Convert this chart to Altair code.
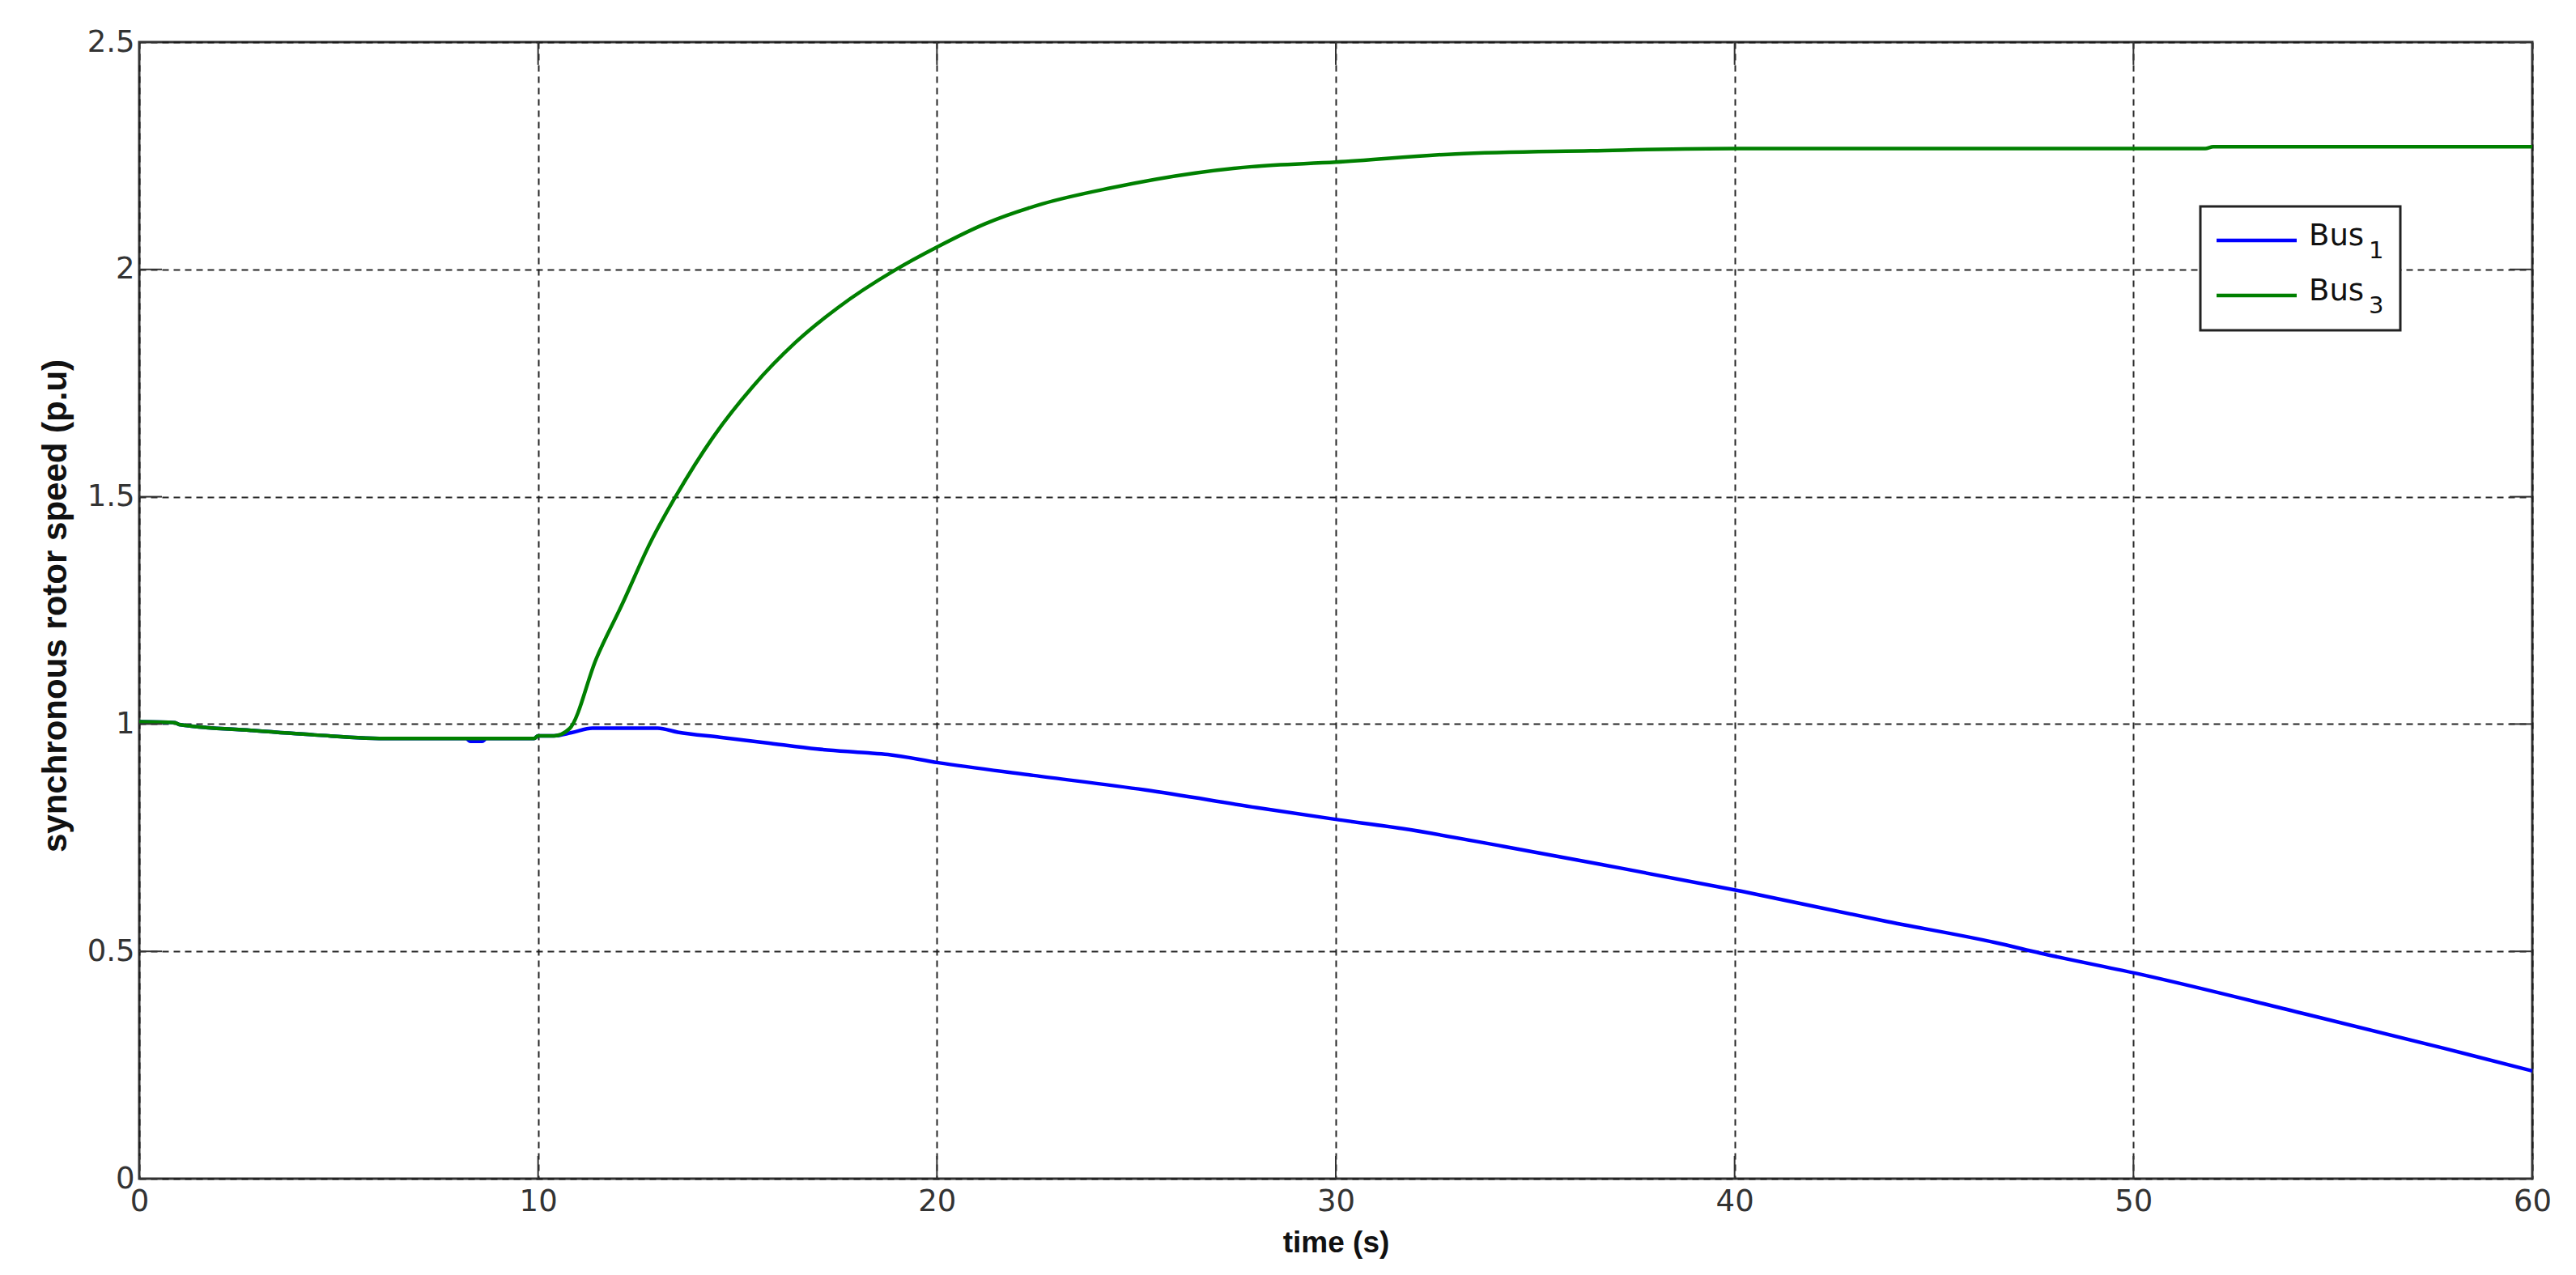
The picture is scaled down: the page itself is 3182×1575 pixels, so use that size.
import altair as alt
import pandas as pd

# ---- data ----
bus1_t = [0, 0.9, 1.0, 2.8, 4.4, 6.3, 8.2, 8.3, 8.6, 8.7, 9.9, 10.0, 10.4, 10.84, 11.36, 13.0,
          13.5, 14.56, 15.7, 17.0, 18.2, 18.77, 20.03, 22.42, 25.22, 28.03, 30.1, 31.67, 34.2, 36.72,
          40.18, 43.74, 46.55, 47.67, 50.25, 54.13, 57.78, 60]
bus1_v = [1.005, 1.003, 0.999, 0.986, 0.976, 0.968, 0.968, 0.962, 0.962, 0.968, 0.968, 0.974,
          0.974, 0.981, 0.991, 0.991, 0.982, 0.971, 0.959, 0.945, 0.937, 0.933, 0.915, 0.887, 0.855,
          0.816, 0.789, 0.770, 0.731, 0.690, 0.632, 0.567, 0.519, 0.496, 0.448, 0.366, 0.287, 0.237]

bus3_t = [0, 0.9, 1.0, 2.8, 4.4, 6.3, 9.9, 10.0, 10.4, 10.79, 11.46, 12.10, 12.82, 13.46, 14.38,
          15.38, 16.45, 17.52, 18.94, 20.0, 21.2, 22.64, 24.35, 26.48, 27.9, 30.0, 33.0, 36.4,
          40.0, 51.8, 52.0, 60]
bus3_v = [1.005, 1.003, 0.999, 0.986, 0.976, 0.968, 0.968, 0.974, 0.974, 0.99, 1.144, 1.262,
          1.400, 1.502, 1.630, 1.742, 1.839, 1.916, 1.998, 2.049, 2.100, 2.144, 2.179, 2.212,
          2.226, 2.236, 2.254, 2.261, 2.266, 2.266, 2.270, 2.270]

series_base = ["Bus", "Bus"]
series_sub = ["1", "3"]
series_colors = ["#0000FF", "#008000"]

x_ticks = [0, 10, 20, 30, 40, 50, 60]
y_ticks = [0, 0.5, 1, 1.5, 2, 2.5]

x_title = "time (s)"
y_title = "synchronous rotor speed (p.u)"

# ---- layout ----
W, H = 2956, 1404
AX = "#333333"
TICK = 28

df1 = pd.DataFrame({"t": bus1_t, "v": bus1_v})
df3 = pd.DataFrame({"t": bus3_t, "v": bus3_v})
dfx = pd.DataFrame({"t": x_ticks})
dfy = pd.DataFrame({"v": y_ticks})

xscale = alt.Scale(domain=[0, 60], nice=False, zero=False)
yscale = alt.Scale(domain=[0, 2.5], nice=False, zero=False)

x_axis = alt.Axis(values=x_ticks, title=x_title, grid=True, gridDash=[8, 6], gridColor="#1a1a1a",
                  gridWidth=2, gridOpacity=0.95, ticks=False, domain=False,
                  labelFont="DejaVu Sans", labelFontSize=37, labelColor=AX, labelPadding=10,
                  labelFlush=False, format="d",
                  titleFont="Liberation Sans", titleFontSize=37, titleFontWeight="bold",
                  titleColor="#111111", titleY=90, titleBaseline="alphabetic")
y_axis = alt.Axis(values=y_ticks, title=y_title, grid=True, gridDash=[8, 6], gridColor="#1a1a1a",
                  gridWidth=2, gridOpacity=0.95, ticks=False, domain=False,
                  labelFont="DejaVu Sans", labelFontSize=37, labelColor=AX, labelPadding=6,
                  labelFlush=False, format="~g",
                  titleFont="Liberation Sans", titleFontSize=42, titleFontWeight="bold",
                  titleColor="#111111", titleX=-82, titleY=696, titleAngle=-90,
                  titleBaseline="bottom", titleAlign="center")

X = lambda: alt.X("t:Q", scale=xscale, axis=x_axis)
Y = lambda: alt.Y("v:Q", scale=yscale, axis=y_axis)

line1 = alt.Chart(df1).mark_line(color=series_colors[0], strokeWidth=4.5,
                                 interpolate="monotone").encode(x=X(), y=Y())
line3 = alt.Chart(df3).mark_line(color=series_colors[1], strokeWidth=4.5,
                                 interpolate="monotone").encode(x=X(), y=Y())

xt_bot = alt.Chart(dfx).mark_rule(color=AX, strokeWidth=2).encode(
    x=X(), y=alt.value(H), y2=alt.value(H - TICK))
xt_top = alt.Chart(dfx).mark_rule(color=AX, strokeWidth=2).encode(
    x=X(), y=alt.value(0), y2=alt.value(TICK))
yt_left = alt.Chart(dfy).mark_rule(color=AX, strokeWidth=2).encode(
    y=Y(), x=alt.value(0), x2=alt.value(TICK))
yt_right = alt.Chart(dfy).mark_rule(color=AX, strokeWidth=2).encode(
    y=Y(), x=alt.value(W), x2=alt.value(W - TICK))

# ---- legend (drawn) ----
one = pd.DataFrame({"k": [0]})
LX0, LX1, LY0, LY1 = 2546, 2793, 203, 356
legend_box = alt.Chart(one).mark_rect(fill="white", stroke="#222222", strokeWidth=3).encode(
    x=alt.value(LX0), x2=alt.value(LX1), y=alt.value(LY0), y2=alt.value(LY1))
legend_layers = [legend_box]
row_y = [245, 313]
for i in range(len(series_base)):
    ly = row_y[i]
    legend_layers.append(alt.Chart(one).mark_rule(color=series_colors[i], strokeWidth=4.5).encode(
        x=alt.value(2566), x2=alt.value(2665), y=alt.value(ly), y2=alt.value(ly)))
    legend_layers.append(alt.Chart(one).mark_text(
        text=series_base[i], align="left", baseline="alphabetic", font="DejaVu Sans",
        fontSize=37, color="#111111").encode(x=alt.value(2680), y=alt.value(ly + 6)))
    legend_layers.append(alt.Chart(one).mark_text(
        text=series_sub[i], align="left", baseline="alphabetic", font="DejaVu Sans",
        fontSize=29, color="#111111").encode(x=alt.value(2754), y=alt.value(ly + 22)))

chart = alt.layer(line1, line3, xt_bot, xt_top, yt_left, yt_right, *legend_layers).properties(
    width=W, height=H,
    background="white",
    autosize=alt.AutoSizeParams(type="none"),
    padding={"left": 164, "top": 44, "right": 46, "bottom": 108},
).configure_view(stroke=AX, strokeWidth=3)

chart.save("out.html", embed_options={"renderer": "svg", "actions": False})
